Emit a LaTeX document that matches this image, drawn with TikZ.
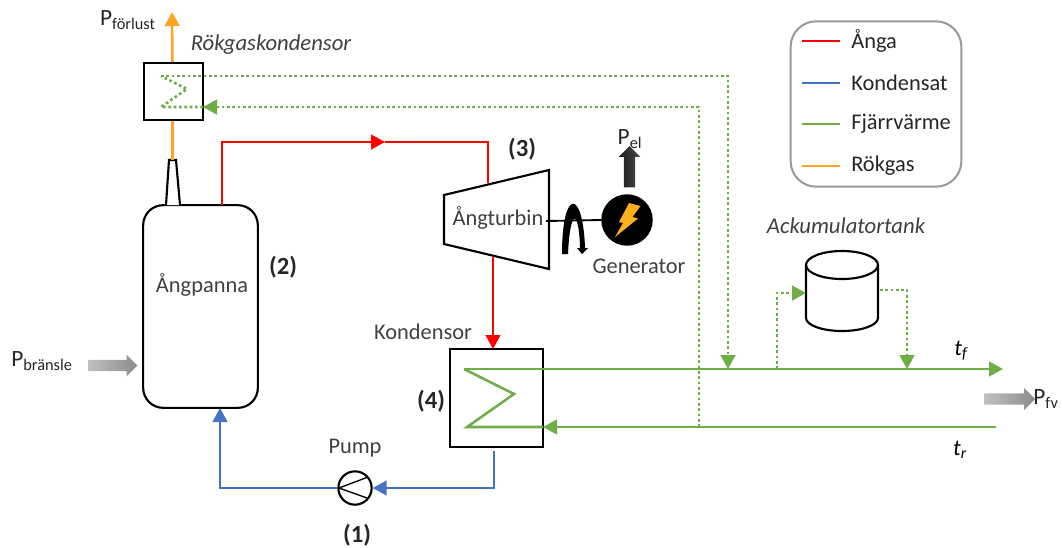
\documentclass[tikz,border=0pt]{standalone}
\usepackage{fontspec}
\setmainfont{Carlito}
\usepackage{tikz}
\usetikzlibrary{arrows.meta, shapes.arrows, calc}
\definecolor{steamred}{HTML}{FF0000}
\definecolor{condblue}{HTML}{4472C4}
\definecolor{heatgreen}{HTML}{70AD47}
\definecolor{fluegas}{HTML}{FFA51F}
\definecolor{labelgray}{HTML}{404040}

\begin{document}
\begin{tikzpicture}[
    x=0.75pt, y=-0.75pt,
    >={Triangle[length=10.5pt, width=11pt]},
    txt/.style={font=\fontsize{16.8}{19}\selectfont, text=labelgray, inner sep=0pt},
    itxt/.style={font=\fontsize{17}{19}\selectfont\itshape, text=labelgray, inner sep=0pt},
    powertxt/.style={font=\fontsize{17.5}{20}\selectfont, text=black!85, inner sep=0pt},
    num/.style={font=\fontsize{18.5}{21}\selectfont\bfseries, text=black!85, inner sep=0pt},
    unit/.style={draw, line width=1.6pt, inner sep=0pt},
    steam/.style={steamred, line width=1.9pt},
    cond/.style={condblue, line width=1.9pt},
    heat/.style={heatgreen, line width=1.9pt},
    heatdot/.style={heatgreen, line width=2pt, dash pattern=on 2pt off 2pt},
    gas/.style={fluegas, line width=1.9pt},
    fatarrow/.style={single arrow, draw=none, inner sep=4pt, minimum width=16pt, single arrow head extend=4pt, single arrow head indent=0pt},
    legline/.style={line width=1.8pt}
]
\useasboundingbox (0,0) rectangle (1062,547);

% units
\node[unit, rounded corners=15pt, minimum width=86pt, minimum height=152pt] (boiler) at (200.5,306.5) {};
\node[unit, minimum width=44pt, minimum height=42.5pt] (rgk) at (173.5,91.5) {};
\node[unit, minimum width=69.5pt, minimum height=73.5pt] (cond) at (496.5,398) {};
\node[unit, circle, minimum size=25pt] (pump) at (355,488) {};
\node[unit, circle, fill=black, minimum size=37pt] (gen) at (627,220) {};

% chimney
\coordinate (chimtop) at (172.5,160);
\draw[line width=1.6pt, fill=white] (166,205) -- (169,160) -- (176,160) -- (180,205);

% turbine
\coordinate (turbin) at (488,183);
\coordinate (turbout) at (493,257);
\coordinate (shaft) at (546,221);
\draw[line width=1.6pt] (444,195) -- (549,170) -- (549,269) -- (444,244) -- cycle;

% tank
\draw[line width=1.6pt] (806,265) -- (806,318) arc[start angle=180, end angle=360, x radius=36, y radius=-13] -- (878,265);
\draw[line width=1.6pt] (842,265) ellipse[x radius=36, y radius=14];
\coordinate (tankin) at (806,293);
\coordinate (tankout) at (880,290);

% flue gas
\coordinate (gastop) at (172,12);
\draw[gas] (chimtop) -- (rgk.south -| chimtop);
\draw[gas, ->] (rgk.north -| chimtop) -- (gastop);

% steam
\coordinate (boilerout) at (222,205);
\coordinate (steammid) at (385,142);
\draw[steam, ->] (boilerout) -- (222,142) -- (steammid);
\draw[steam] (steammid) -- (488,142) -- (turbin);
\coordinate (condin) at (493,349);
\draw[steam, ->] (turbout) -- (condin);

% condensate
\coordinate (condout) at (494,451);
\coordinate (boilerin) at (220,408);
\draw[cond, ->] (condout) -- (494,488) -- (pump.east);
\draw[cond, ->] (pump.west) -- (220,488) -- (boilerin);
\draw[line width=1pt] (339,488) -- (368,477) (339,488) -- (367,498);

% district heating
\coordinate (fstart) at (464,369);
\coordinate (fend) at (1003,369);
\coordinate (rstart) at (996,427);
\coordinate (rin) at (543,427);
\draw[heat, ->] (fstart) -- (fend);
\draw[heat, ->] (rstart) -- (rin);
\draw[heat] (rin) -- (467,427) -- (514,394) -- (fstart);

% flue gas condenser loop
\coordinate (rgkin) at (203,107);
\coordinate (feedin) at (728,369);
\coordinate (tapout) at (699,427);
\draw[heatdot, ->] (161,76) -- (728,76) -- (feedin);
\draw[heatdot, ->] (tapout) -- (699,107) -- (rgkin);
\draw[heatdot] (rgkin) -- (161,107) -- (187,89) -- (161,76);

% tank loop
\coordinate (tapin) at (777,369);
\coordinate (tankret) at (907,369);
\draw[heatdot, ->] (tapin) -- (777,293) -- (tankin);
\draw[heatdot, ->] (tankout) -- (907,290) -- (tankret);

% generator
\draw[line width=1.4pt] (shaft) -- (gen.west);
\fill (562,254) .. controls (562,188) and (583,188) .. (585,248) -- (588,248) -- (582,254) -- (577,248) -- (580,248) .. controls (579,208) and (570,208) .. (568,254) -- cycle;
\node[fatarrow, rotate=90, minimum height=31pt, left color=black!90, right color=black!70] (pel) at (629.5,169.5) {};
\fill[fill=fluegas!90!yellow] (629,203) -- (640.5,206) -- (632.5,217) -- (638,218.5) -- (615,237) -- (623,223) -- (619,222) -- cycle;

% power arrows
\node[fatarrow, minimum height=37pt, left color=black!25, right color=black!45] (pin) at (110,365.5) {};
\node[fatarrow, minimum height=38pt, left color=black!25, right color=black!45] (pfv) at (1007,399) {};

% labels
\node[powertxt] (plost) at (128,20) {P\textsubscript{förlust}};
\node[powertxt] (pfuel) at (42,361) {P\textsubscript{bränsle}};
\node[powertxt] (pelabel) at (630,139) {P\textsubscript{el}};
\node[powertxt] (pfvlabel) at (1046,399) {P\textsubscript{fv}};
\node[itxt] (rgklabel) at (271,45) {Rökgaskondensor};
\node[itxt] (tanklabel) at (846,226) {Ackumulatortank};
\node[txt] (boilerlabel) at (202,285) {Ångpanna};
\node[txt] (turblabel) at (498,218) {Ångturbin};
\node[txt] (genlabel) at (639,266) {Generator};
\node[txt] (condlabel) at (423,332) {Kondensor};
\node[txt] (pumplabel) at (355,448) {Pump};
\node[num] (n1) at (357,535) {(1)};
\node[num] (n2) at (283,267) {(2)};
\node[num] (n3) at (522,149) {(3)};
\node[num] (n4) at (431,401) {(4)};
\node[itxt, text=black] (tf) at (961,351) {t\textsubscript{f}};
\node[itxt, text=black] (tr) at (960,450) {t\textsubscript{r}};

% legend
\node[draw=black!40, line width=1.5pt, rounded corners=19pt, minimum width=128pt, minimum height=124pt, inner sep=0pt] (legend) at (876,104) {};
\foreach \col/\name/\ypos in {steamred/Ånga/41, condblue/Kondensat/83, heatgreen/Fjärrvärme/124, fluegas/Rökgas/166} {
    \draw[legline, \col] (802,\ypos) -- (840,\ypos);
    \node[txt, anchor=west, text=black!85] at (851,\ypos) {\name};
}
\end{tikzpicture}
\end{document}
